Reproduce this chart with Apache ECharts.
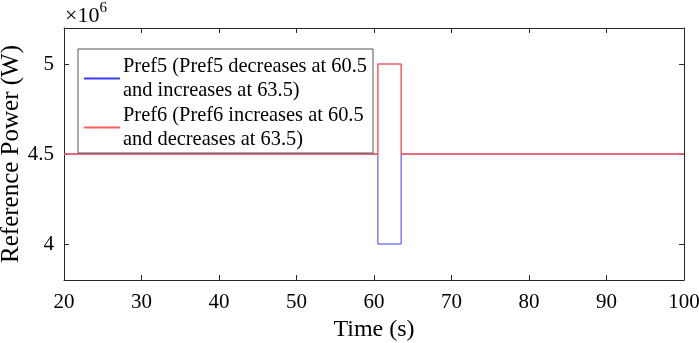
<!DOCTYPE html>
<html><head><meta charset="utf-8">
<script src="https://cdn.jsdelivr.net/npm/echarts@6/dist/echarts.min.js"></script>
<style>html,body{margin:0;padding:0;background:#fff}#c{width:699px;height:343px}</style>
</head><body><div id="c"></div>
<script>
const xTicks = [20,30,40,50,60,70,80,90,100];
const yTicks = [4e6, 4.5e6, 5e6];
const timePref5 = [20, 60.5, 60.5, 63.5, 63.5, 100];
const valuesPref5 = [4.5e6, 4.5e6, 4.0e6, 4.0e6, 4.5e6, 4.5e6];
const timePref6 = [20, 60.5, 60.5, 63.5, 63.5, 100];
const valuesPref6 = [4.5e6, 4.5e6, 5.0e6, 5.0e6, 4.5e6, 4.5e6];
const seriesNames = ['Pref5 (Pref5 decreases at 60.5\nand increases at 63.5)', 'Pref6 (Pref6 increases at 60.5\nand decreases at 63.5)'];

const font = '"Liberation Serif", "Times New Roman", serif';
const chart = echarts.init(document.getElementById('c'));
const axCommon = {
  axisLine: {show: true, lineStyle: {color: '#262626', width: 1}},
  axisTick: {inside: true, length: 5, lineStyle: {color: '#262626'}},
  splitLine: {show: false}
};
chart.setOption({
  animation: false,
  textStyle: {fontFamily: font},
  grid: {left: 64, right: 15, top: 28, bottom: 63, containLabel: false, outerBoundsMode: 'none'},
  legend: {
    left: 78, top: 49, orient: 'vertical', itemWidth: 36, itemHeight: 2, itemGap: 0,
    padding: [5, 6, 1, 6],
    backgroundColor: '#fff', borderColor: '#555', borderWidth: 1,
    textStyle: {fontFamily: font, fontSize: 20.4, color: '#000', lineHeight: 24.5, padding: [0, 0, 0, -2]},
    icon: 'rect',
    data: seriesNames
  },
  xAxis: [
    Object.assign({type: 'value', min: 20, max: 100, interval: 10, position: 'bottom',
      name: 'Time (s)', nameLocation: 'middle', nameGap: 38, nameMoveOverlap: false,
      nameTextStyle: {fontFamily: font, fontSize: 24, color: '#000'},
      axisLabel: {fontFamily: font, fontSize: 21, color: '#000', margin: 12,
        customValues: xTicks, formatter: v => String(v)}}, axCommon),
    Object.assign({type: 'value', min: 20, max: 100, interval: 10, position: 'top',
      axisLabel: {show: false}}, axCommon)
  ],
  yAxis: [
    {type: 'value', min: 3.8e6, max: 5.2e6, position: 'left',
      name: 'Reference Power (W)', nameLocation: 'middle', nameGap: 40, nameMoveOverlap: false,
      nameTextStyle: {fontFamily: font, fontSize: 25, color: '#000'},
      axisTick: {inside: true, length: 5, lineStyle: {color: '#262626'}, customValues: yTicks},
      axisLabel: {fontFamily: font, fontSize: 21, color: '#000', margin: 10,
        customValues: yTicks, formatter: v => String(v / 1e6)}},
    {type: 'value', min: 3.8e6, max: 5.2e6, position: 'right',
      axisLabel: {show: false},
      axisTick: {inside: true, length: 5, lineStyle: {color: '#262626'}, customValues: yTicks}}
  ].map(a => Object.assign({}, axCommon, a, {axisTick: a.axisTick})),
  graphic: [{
    type: 'text', left: 65, top: 1,
    style: {
      text: '{a|×10}{b|6}',
      rich: {
        a: {fontFamily: font, fontSize: 22, fill: '#000', verticalAlign: 'bottom', lineHeight: 26},
        b: {fontFamily: font, fontSize: 15, fill: '#000', verticalAlign: 'top', lineHeight: 26, padding: [0,0,12,0]}
      }
    }
  }],
  series: [
    {name: seriesNames[0], type: 'line', showSymbol: false, symbol: 'none',
     lineStyle: {color: '#3a3aff', width: 1}, itemStyle: {color: '#3a3aff'},
     data: timePref5.map((t, i) => [t, valuesPref5[i]])},
    {name: seriesNames[1], type: 'line', showSymbol: false, symbol: 'none',
     lineStyle: {color: '#ff5a5a', width: 1.5}, itemStyle: {color: '#ff5a5a'},
     data: timePref6.map((t, i) => [t, valuesPref6[i]])}
  ]
});
</script></body></html>
